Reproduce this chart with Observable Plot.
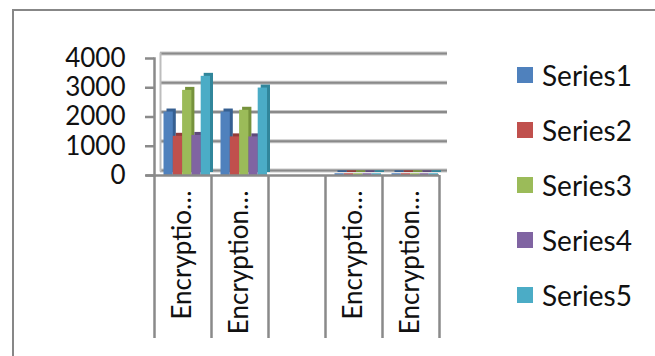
<!DOCTYPE html>
<html>
<head>
<meta charset="utf-8">
<script src="https://cdn.jsdelivr.net/npm/d3@7"></script>
<script src="https://cdn.jsdelivr.net/npm/@observablehq/plot@0.6"></script>
<style>
  html, body { margin: 0; padding: 0; background: #fff; }
  #wrap { position: relative; width: 655px; height: 356px; overflow: hidden; font-family: Lato, "Open Sans", sans-serif; }
  #frame { position: absolute; left: 12px; top: 9px; width: 700px; height: 400px; border-left: 2px solid #878787; border-top: 2px solid #878787; }
  #chart { position: absolute; left: 0; top: 0; }
  #legend { position: absolute; left: 517px; top: 0; }
  .item { position: absolute; left: 0; white-space: nowrap; display: flex; align-items: center; height: 30px; font-size: 28px; color: #111; }
  .sw { width: 16px; height: 16px; margin-right: 9px; }
</style>
</head>
<body>
<div id="wrap">
  <div id="frame"></div>
  <div id="chart"></div>
  <div id="legend"></div>
</div>
<script>
// ---- data ----
const categories = ["C1", "C2", "C3", "C4", "C5"];
const tickLabels = ["Encryptio…", "Encryption…", "", "Encryptio…", "Encryption…"];
const seriesNames = ["Series1", "Series2", "Series3", "Series4", "Series5"];
const series1 = [2170, 2170, null, 60, 60];
const series2 = [1340, 1320, null, 60, 60];
const series3 = [2910, 2230, null, 60, 60];
const series4 = [1370, 1320, null, 60, 60];
const series5 = [3390, 2990, null, 60, 60];
const yTicks = [0, 1000, 2000, 3000, 4000];

const seriesValues = [series1, series2, series3, series4, series5];
const colors = ["#4F81BD", "#C0504D", "#9BBB59", "#8064A2", "#4BACC6"];
const darkColors = ["#365f91", "#943c3a", "#76923c", "#5f4a7b", "#31869b"];

const W = 655, H = 356;
const mL = 154, mR = 216, mT = 58, mB = 181;
const band = (W - mL - mR) / categories.length;
const offset0 = 9.5, barW = 9.3;
const depth = 3;
const grid = "#8a8a8a";

const marks = [];
// back wall gridlines (3D offset)
marks.push(Plot.ruleY(yTicks, {stroke: "#c8c8c8", strokeWidth: 4, dx: 6, dy: -5, insetRight: -2}));
marks.push(Plot.ruleY(yTicks, {stroke: grid, strokeWidth: 2, dx: 6, dy: -5, insetRight: -2}));
// back wall left edge
marks.push(Plot.frame({anchor: "left", stroke: "#bdbdbd", strokeWidth: 2, dx: 6, dy: -5}));

// bars
seriesValues.forEach((vals, i) => {
  const rows = categories.map((c, k) => ({cat: c, value: vals[k]})).filter(d => d.value != null);
  const insetLeft = offset0 + barW * i;
  const insetRight = band - offset0 - barW * (i + 1);
  marks.push(Plot.barY(rows, {x: "cat", y: "value", fill: darkColors[i], insetLeft, insetRight, dx: depth, dy: -depth}));
  marks.push(Plot.barY(rows, {x: "cat", y: "value", fill: colors[i], insetLeft, insetRight}));
});

// floor front edge / x axis line
marks.push(Plot.ruleY([0], {stroke: grid, strokeWidth: 2.5, insetLeft: -8}));
// y axis line
marks.push(Plot.frame({anchor: "left", stroke: grid, strokeWidth: 2.5}));
// category dividers below the axis
marks.push(Plot.ruleX(categories, {stroke: grid, strokeWidth: 2.5, dx: -band / 2, insetTop: H - mT - mB, insetBottom: -163}));
marks.push(Plot.ruleX([categories[categories.length - 1]], {stroke: grid, strokeWidth: 2.5, dx: band / 2, insetTop: H - mT - mB, insetBottom: -163}));

marks.push(Plot.axisY({ticks: yTicks, tickSize: 9, tickPadding: 20, fontSize: 26, stroke: grid, strokeWidth: 2.5, label: null, tickFormat: d => String(d)}));
marks.push(Plot.axisX({tickSize: 0, tickPadding: 15, tickRotate: -90, fontSize: 26, label: null, tickFormat: d => tickLabels[categories.indexOf(d)]}));

const chart = Plot.plot({
  width: W, height: H,
  marginLeft: mL, marginRight: mR, marginTop: mT, marginBottom: mB,
  style: {fontFamily: "Lato, 'Open Sans', sans-serif", background: "transparent", color: "#111", overflow: "visible"},
  x: {type: "band", domain: categories, padding: 0, axis: null},
  y: {domain: [0, 4000], axis: null},
  marks
});
document.getElementById("chart").appendChild(chart);

// legend
const legend = document.getElementById("legend");
seriesNames.forEach((name, i) => {
  const item = document.createElement("div");
  item.className = "item";
  item.style.top = (60 + i * 55) + "px";
  const sw = document.createElement("div");
  sw.className = "sw";
  sw.style.background = colors[i];
  item.appendChild(sw);
  const t = document.createElement("span");
  t.textContent = name;
  item.appendChild(t);
  legend.appendChild(item);
});
</script>
</body>
</html>
